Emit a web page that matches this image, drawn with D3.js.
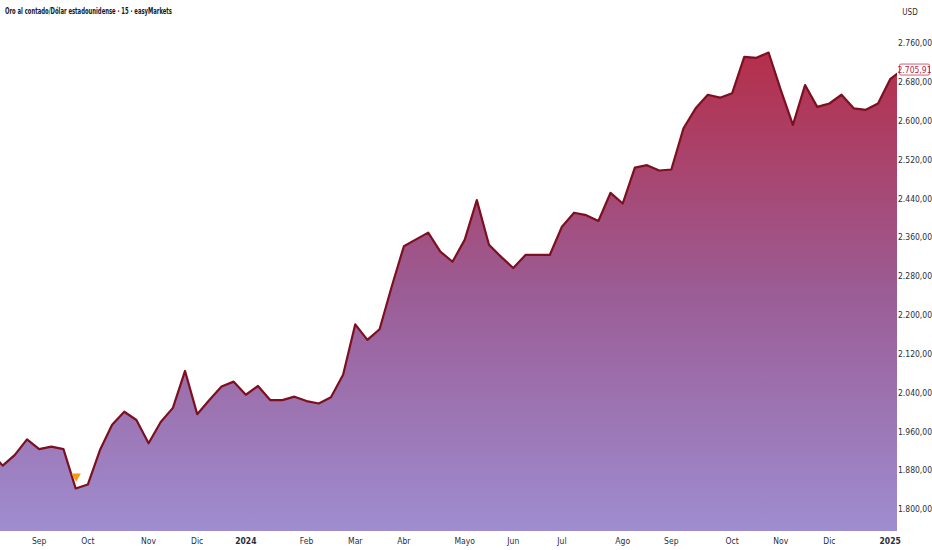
<!DOCTYPE html>
<html>
<head>
<meta charset="utf-8">
<script src="https://cdn.jsdelivr.net/npm/d3@7"></script>
<style>
  html, body { margin: 0; padding: 0; background: #ffffff; }
  svg { display: block; }
  .lbl { font-family: "Liberation Sans Narrow", "DejaVu Sans Condensed", "Roboto", sans-serif; }
</style>
</head>
<body>
<svg id="chart" width="932" height="550"></svg>
<script>
// ---- Data (weekly closes, XAU/USD) ----
const prices = [
  1918, 1890, 1912, 1944, 1924, 1929, 1924, 1843, 1851, 1922,
  1974, 2001, 1984, 1936, 1980, 2009, 2085, 1996, 2025, 2053,
  2063, 2036, 2054, 2025, 2025, 2032, 2023, 2018, 2031, 2077,
  2181, 2149, 2171, 2259, 2342, 2356, 2370, 2331, 2310, 2355,
  2437, 2345, 2320, 2297, 2324, 2324, 2324, 2382, 2411, 2406,
  2394, 2452, 2430, 2504, 2509, 2498, 2500, 2585, 2626, 2654,
  2648, 2657, 2732, 2730, 2741, 2664, 2592, 2674, 2629, 2636,
  2654, 2626, 2623, 2636, 2686, 2705.91
];
const monthLabels = ["Sep","Oct","Nov","Dic","2024","Feb","Mar","Abr","Mayo","Jun","Jul","Ago","Sep","Oct","Nov","Dic","2025"];
const monthIndex  = [4, 8, 13, 17, 21, 26, 30, 34, 39, 43, 47, 52, 56, 61, 65, 69, 74];
const yTicks = [1800, 1880, 1960, 2040, 2120, 2200, 2280, 2360, 2440, 2520, 2600, 2680, 2760];
const markers = [{ index: 7, value: 1868 }];
const titleText = "Oro al contado/Dólar estadounidense · 15 · easyMarkets";
const currency = "USD";

// ---- Layout ----
const svg = d3.select("#chart");
const plotW = 897, plotH = 531;
const step = 12.157;
const x = d3.scaleLinear().domain([0, prices.length - 1]).range([-9.46, -9.46 + step * (prices.length - 1)]);
const y = d3.scaleLinear().domain([1800, 2760]).range([509.3, 43.3]);

const es = d3.formatLocale({ decimal: ",", thousands: ".", grouping: [3], currency: ["", ""] });
const fmt = es.format(",.2f");

const defs = svg.append("defs");
defs.append("clipPath").attr("id", "clip")
  .append("rect").attr("x", 0).attr("y", 0).attr("width", plotW).attr("height", plotH);

const grad = defs.append("linearGradient").attr("id", "fillGrad")
  .attr("gradientUnits", "userSpaceOnUse")
  .attr("x1", 0).attr("x2", 0).attr("y1", y(2740)).attr("y2", plotH);
grad.append("stop").attr("offset", "0").attr("stop-color", "#b52f4b");
grad.append("stop").attr("offset", "0.5").attr("stop-color", "#9b5c95");
grad.append("stop").attr("offset", "1").attr("stop-color", "#9e8dd0");

const g = svg.append("g").attr("clip-path", "url(#clip)");

const area = d3.area()
  .x((d, i) => x(i))
  .y0(plotH)
  .y1(d => y(d));
const line = d3.line()
  .x((d, i) => x(i))
  .y(d => y(d));

g.append("path").datum(prices).attr("d", area).attr("fill", "url(#fillGrad)");
g.append("path").datum(prices).attr("d", line)
  .attr("fill", "none").attr("stroke", "#7c1020").attr("stroke-width", 2.2)
  .attr("stroke-linejoin", "round");

// event marker (orange down triangle)
g.selectAll(".mk").data(markers).enter().append("path")
  .attr("class", "mk")
  .attr("transform", d => `translate(${x(d.index) + 0.5},${y(d.value)})`)
  .attr("d", d3.symbol().type(d3.symbolTriangle).size(40))
  .attr("fill", "#f59a12")
  .attr("transform", d => `translate(${x(d.index) + 0.5},${y(d.value)}) rotate(180)`);

// ---- Right axis ----
const yAxis = svg.append("g").attr("class", "lbl");
yAxis.selectAll("text.yt").data(yTicks).enter().append("text")
  .attr("class", "yt")
  .attr("x", 915).attr("y", d => y(d))
  .attr("dy", "0.35em")
  .attr("text-anchor", "middle")
  .attr("font-size", 8.5)
  .attr("fill", "#2a2e39")
  .text(d => fmt(d));

svg.append("text").attr("class", "lbl")
  .attr("x", 910).attr("y", 12).attr("dy", "0.35em")
  .attr("text-anchor", "middle").attr("font-size", 8).attr("fill", "#2a2e39")
  .text(currency);

// last price label
const last = prices[prices.length - 1];
const ly = y(last);
svg.append("rect").attr("x", 899.5).attr("y", ly - 5.5).attr("width", 30).attr("height", 11)
  .attr("rx", 1.5).attr("fill", "#ffffff").attr("stroke", "#c0394d").attr("stroke-width", 0.8);
svg.append("text").attr("class", "lbl")
  .attr("x", 914.5).attr("y", ly).attr("dy", "0.35em")
  .attr("text-anchor", "middle").attr("font-size", 8.5).attr("fill", "#b3263d")
  .text(fmt(last));

// ---- Bottom axis ----
svg.append("g").attr("class", "lbl").selectAll("text.xt")
  .data(monthLabels).enter().append("text")
  .attr("class", "xt")
  .attr("x", (d, i) => x(monthIndex[i]))
  .attr("y", 541).attr("dy", "0.35em")
  .attr("text-anchor", "middle")
  .attr("font-size", 8.5)
  .attr("font-weight", d => /^\d+$/.test(d) ? "bold" : "normal")
  .attr("fill", "#2a2e39")
  .text(d => d);

// ---- Title ----
svg.append("text").attr("class", "lbl")
  .attr("x", 5).attr("y", 11).attr("dy", "0.35em")
  .attr("font-size", 9).attr("font-weight", "bold").attr("fill", "#131722")
  .attr("textLength", 167).attr("lengthAdjust", "spacingAndGlyphs")
  .text(titleText);
</script>
</body>
</html>
